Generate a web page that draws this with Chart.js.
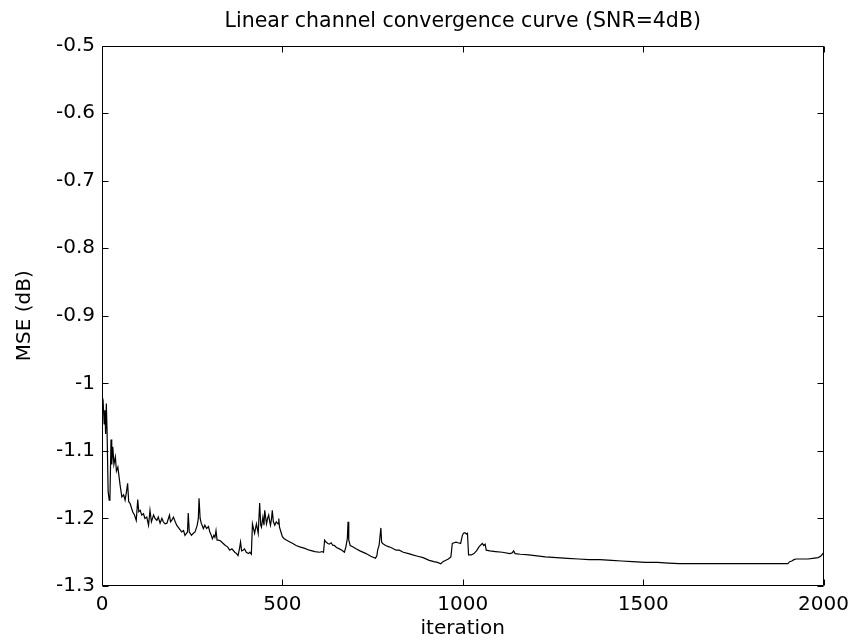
<!DOCTYPE html>
<html>
<head>
<meta charset="utf-8">
<script src="https://cdn.jsdelivr.net/npm/chart.js@4/dist/chart.umd.min.js"></script>
<style>
  html, body { margin: 0; padding: 0; background: #fff; }
  #wrap { width: 856px; height: 644px; position: relative; }
</style>
</head>
<body>
<div id="wrap"><canvas id="mseChart"></canvas></div>
<script>
// data
const iterations = [
  0, 3, 6, 8, 10, 12, 14, 17, 20, 22, 25, 27, 30, 33, 37, 40, 44, 50, 55, 60,
  64, 68, 71, 74, 78, 85, 90, 95, 99, 102, 106, 110, 115, 119, 124, 129, 133, 137, 143, 147,
  152, 156, 161, 166, 170, 175, 180, 187, 190, 193, 198, 203, 207, 214, 221, 226, 230, 234, 237, 239,
  242, 248, 253, 258, 264, 267, 269, 272, 275, 281, 285, 290, 295, 299, 303, 306, 310, 313, 316, 319,
  322, 328, 336, 342, 348, 354, 360, 368, 373, 377, 381, 384, 387, 391, 395, 400, 406, 410, 414, 417,
  420, 423, 428, 433, 437, 440, 442, 446, 449, 451, 454, 456, 459, 462, 465, 467, 470, 472, 475, 479,
  483, 488, 490, 492, 496, 500, 505, 511, 518, 529, 538, 548, 560, 575, 590, 603, 610, 614, 617, 621,
  626, 630, 635, 640, 644, 650, 658, 665, 672, 676, 680, 682, 684, 688, 695, 704, 715, 732, 745, 758,
  762, 764, 768, 773, 775, 778, 786, 796, 805, 815, 824, 835, 850, 861, 875, 890, 907, 920, 930, 939,
  945, 953, 960, 967, 971, 976, 981, 987, 994, 996, 999, 1002, 1006, 1010, 1013, 1016, 1024, 1031, 1038, 1045,
  1050, 1054, 1058, 1062, 1065, 1075, 1091, 1110, 1130, 1137, 1141, 1145, 1160, 1183, 1200, 1229, 1260, 1290, 1321, 1350,
  1380, 1413, 1440, 1470, 1506, 1540, 1570, 1600, 1634, 1680, 1727, 1770, 1818, 1860, 1901, 1906, 1912, 1918, 1924, 1940,
  1957, 1970, 1985, 1992, 1998, 2000
];
const mseDb = [
  -1.018, -1.025, -1.06, -1.04, -1.075, -1.03, -1.07, -1.16, -1.173, -1.17, -1.083, -1.12, -1.094, -1.12, -1.109, -1.13, -1.124, -1.15, -1.168, -1.165,
  -1.173, -1.16, -1.148, -1.175, -1.178, -1.19, -1.195, -1.203, -1.172, -1.19, -1.188, -1.195, -1.193, -1.2, -1.198, -1.21, -1.188, -1.205, -1.195, -1.2,
  -1.203, -1.198, -1.207, -1.2, -1.205, -1.208, -1.207, -1.195, -1.205, -1.203, -1.198, -1.205, -1.21, -1.215, -1.22, -1.218, -1.225, -1.222, -1.22, -1.192,
  -1.22, -1.225, -1.222, -1.22, -1.21, -1.2, -1.17, -1.2, -1.207, -1.215, -1.21, -1.215, -1.212, -1.22, -1.225, -1.23, -1.225, -1.228, -1.218, -1.232,
  -1.232, -1.233, -1.237, -1.24, -1.242, -1.247, -1.245, -1.25, -1.252, -1.255, -1.245, -1.235, -1.248, -1.247, -1.245, -1.25, -1.252, -1.25, -1.253, -1.208,
  -1.215, -1.222, -1.208, -1.222, -1.177, -1.21, -1.213, -1.198, -1.21, -1.188, -1.2, -1.208, -1.2, -1.195, -1.205, -1.21, -1.2, -1.188, -1.205, -1.21,
  -1.205, -1.208, -1.2, -1.213, -1.22, -1.227, -1.23, -1.232, -1.234, -1.237, -1.24, -1.242, -1.244, -1.247, -1.249, -1.25, -1.249, -1.25, -1.232, -1.235,
  -1.237, -1.238, -1.236, -1.24, -1.24, -1.243, -1.245, -1.247, -1.25, -1.242, -1.23, -1.205, -1.232, -1.24, -1.242, -1.245, -1.248, -1.252, -1.256, -1.259,
  -1.255, -1.247, -1.24, -1.214, -1.235, -1.237, -1.24, -1.242, -1.244, -1.247, -1.247, -1.25, -1.252, -1.254, -1.256, -1.258, -1.262, -1.264, -1.265, -1.267,
  -1.264, -1.262, -1.26, -1.257, -1.237, -1.236, -1.235, -1.236, -1.237, -1.232, -1.225, -1.222, -1.221, -1.223, -1.222, -1.254, -1.254, -1.252, -1.248, -1.242,
  -1.239, -1.237, -1.24, -1.238, -1.247, -1.248, -1.249, -1.25, -1.252, -1.251, -1.248, -1.252, -1.253, -1.254, -1.255, -1.257, -1.258, -1.259, -1.26, -1.261,
  -1.261, -1.262, -1.263, -1.264, -1.265, -1.265, -1.266, -1.267, -1.267, -1.267, -1.267, -1.267, -1.267, -1.267, -1.267, -1.264, -1.263, -1.261, -1.26, -1.26,
  -1.26, -1.259, -1.258, -1.256, -1.252, -1.253
];
const xTicks = [0, 500, 1000, 1500, 2000];
const yTicks = [-1.3, -1.2, -1.1, -1, -0.9, -0.8, -0.7, -0.6, -0.5];

const FONT = "'DejaVu Sans', 'Liberation Sans', sans-serif";
Chart.defaults.color = "#000";
Chart.defaults.font.family = FONT;

// box round the plot and inward tick marks on all four sides
const frameTicks = {
  id: "frameTicks",
  afterDatasetsDraw(chart) {
    const { ctx, chartArea: a, scales: { x, y } } = chart;
    const L = Math.round(a.left) + 0.5, R = Math.round(a.right) - 0.5;
    const T = Math.round(a.top) + 0.5, B = Math.round(a.bottom) - 0.5;
    const len = 6;
    ctx.save();
    ctx.strokeStyle = "#000";
    ctx.lineWidth = 1;
    ctx.beginPath();
    ctx.rect(L, T, R - L, B - T);
    xTicks.forEach(v => {
      const px = Math.round(x.getPixelForValue(v)) + 0.5;
      ctx.moveTo(px, B); ctx.lineTo(px, B - len);
      ctx.moveTo(px, T); ctx.lineTo(px, T + len);
    });
    yTicks.forEach(v => {
      const py = Math.round(y.getPixelForValue(v)) + 0.5;
      ctx.moveTo(L, py); ctx.lineTo(L + len, py);
      ctx.moveTo(R, py); ctx.lineTo(R - len, py);
    });
    ctx.stroke();
    ctx.restore();
  }
};

const fmt = v => String(parseFloat(Number(v).toFixed(2)));

new Chart(document.getElementById("mseChart"), {
  type: "line",
  data: {
    datasets: [{
      data: iterations.map((it, i) => ({ x: it, y: mseDb[i] })),
      borderColor: "#000",
      borderWidth: 1.2,
      pointRadius: 0,
      tension: 0,
      fill: false
    }]
  },
  options: {
    responsive: true,
    maintainAspectRatio: false,
    animation: false,
    layout: { padding: { top: 0, right: 30, bottom: 0, left: 0 } },
    plugins: {
      legend: { display: false },
      tooltip: { enabled: false },
      title: {
        display: true,
        fullSize: false,
        text: "Linear channel convergence curve (SNR=4dB)",
        font: { size: 20.5, weight: "normal", family: FONT },
        color: "#000",
        padding: { top: 9, bottom: 12 }
      }
    },
    scales: {
      x: {
        type: "linear",
        min: 0,
        max: 2000,
        afterBuildTicks: s => { s.ticks = xTicks.map(v => ({ value: v })); },
        afterFit: s => { s.height = 58; },
        grid: { display: false, drawTicks: false },
        border: { display: false },
        ticks: { padding: 7, font: { size: 20 }, color: "#000", maxRotation: 0, callback: fmt },
        title: {
          display: true,
          text: "iteration",
          font: { size: 20 },
          color: "#000",
          padding: { top: 0, bottom: 3 }
        }
      },
      y: {
        min: -1.3,
        max: -0.5,
        afterBuildTicks: s => { s.ticks = yTicks.map(v => ({ value: v })); },
        afterFit: s => { s.width = 102; },
        grid: { display: false, drawTicks: false },
        border: { display: false },
        ticks: { padding: 7, font: { size: 20 }, color: "#000", callback: fmt },
        title: {
          display: true,
          text: "MSE (dB)",
          font: { size: 20 },
          color: "#000",
          padding: { top: 13, bottom: 0 }
        }
      }
    }
  },
  plugins: [frameTicks]
});
</script>
</body>
</html>
